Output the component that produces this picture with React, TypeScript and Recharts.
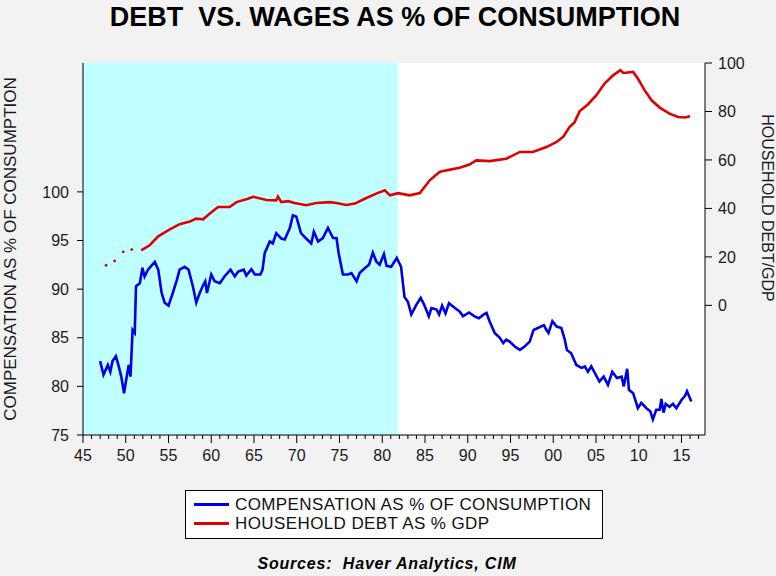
import { ComposedChart, Line, XAxis, YAxis, ReferenceArea, CartesianGrid, Legend } from 'recharts';

const FONT = '"Liberation Sans", Arial, sans-serif';

// compensation as % of consumption (left axis)
const compYears = [
  1947.0, 1947.4, 1947.9, 1948.2, 1948.45, 1948.85, 1949.2, 1949.5, 1949.8, 1950.15,
  1950.35, 1950.55, 1950.8, 1951.05, 1951.2, 1951.65, 1951.95, 1952.2, 1952.6, 1953.4,
  1953.8, 1954.2, 1954.55, 1955.0, 1955.5, 1956.0, 1956.3, 1956.9, 1957.35, 1957.85,
  1958.25, 1958.65, 1959.05, 1959.3, 1959.5, 1960.0, 1960.4, 1961.0, 1961.55, 1962.25,
  1962.75, 1963.15, 1963.8, 1964.1, 1964.7, 1965.1, 1965.75, 1966.0, 1966.25, 1966.85,
  1967.2, 1967.6, 1968.2, 1968.6, 1969.2, 1969.55, 1969.95, 1970.5, 1971.1, 1971.7,
  1972.0, 1972.5, 1973.05, 1973.65, 1974.25, 1974.65, 1974.9, 1975.4, 1976.0, 1976.4,
  1977.0, 1977.35, 1977.95, 1978.45, 1978.9, 1979.3, 1979.7, 1980.2, 1980.5, 1981.05,
  1981.7, 1982.2, 1982.6, 1983.0, 1983.4, 1984.0, 1984.5, 1984.9, 1985.45, 1985.75,
  1986.35, 1986.65, 1987.0, 1987.4, 1987.8, 1988.5, 1989.05, 1989.45, 1990.15, 1990.8,
  1991.3, 1991.8, 1992.2, 1992.55, 1993.15, 1993.75, 1994.15, 1994.5, 1994.9, 1995.5,
  1996.1, 1996.65, 1997.25, 1997.7, 1998.2, 1998.9, 1999.2, 1999.45, 1999.9, 2000.4,
  2000.95, 2001.35, 2001.6, 2002.1, 2002.7, 2003.3, 2003.7, 2004.05, 2004.45, 2005.4,
  2005.9, 2006.4, 2006.9, 2007.45, 2008.0, 2008.25, 2008.65, 2008.85, 2009.35, 2009.65,
  2009.9, 2010.3, 2010.9, 2011.35, 2011.65, 2012.05, 2012.45, 2012.65, 2012.9, 2013.15,
  2013.6, 2014.0, 2014.4, 2015.0, 2015.4, 2015.65, 2016.15,
];
const compValues = [
  82.6, 81.2, 82.2, 81.5, 82.6, 83.1, 82.0, 80.9, 79.3, 81.2,
  82.2, 81.0, 85.8, 85.5, 90.3, 90.6, 92.2, 91.3, 92.0, 92.8,
  92.0, 89.6, 88.6, 88.3, 89.6, 91.0, 92.0, 92.3, 92.0, 90.3,
  88.6, 89.6, 90.4, 90.8, 89.6, 91.5, 90.8, 90.6, 91.3, 92.0,
  91.3, 91.8, 92.0, 91.4, 92.05, 91.5, 91.5, 92.0, 93.7, 94.9,
  94.7, 95.75, 95.2, 95.1, 96.3, 97.6, 97.45, 95.75, 95.2, 94.7,
  95.9, 94.9, 95.25, 96.3, 95.25, 95.25, 93.7, 91.5, 91.5, 91.65,
  90.8, 91.65, 92.15, 92.5, 93.75, 92.85, 92.5, 93.6, 92.4, 92.3,
  93.2, 92.3, 89.2, 88.7, 87.4, 88.4, 89.1, 88.4, 87.2, 88.05,
  87.9, 87.4, 88.3, 87.5, 88.55, 88.05, 87.7, 87.2, 87.6, 87.2,
  87.0, 87.35, 87.55, 86.7, 85.5, 85.0, 84.45, 84.8, 84.6, 84.1,
  83.75, 84.1, 84.6, 85.8, 86.0, 86.3, 85.8, 85.5, 86.7, 86.15,
  86.0, 84.8, 83.75, 83.4, 82.2, 81.9, 82.05, 81.5, 82.05, 80.5,
  81.0, 80.15, 81.5, 80.85, 81.0, 80.0, 81.8, 79.65, 79.3, 78.45,
  77.75, 78.3, 77.75, 77.45, 76.6, 77.6, 77.6, 78.7, 77.3, 78.2,
  77.9, 78.2, 77.75, 78.6, 79.0, 79.5, 78.45,
];

// household debt as % of GDP (right axis)
const debtEarlyYears = [1947.7, 1948.7, 1949.7, 1950.7];
const debtEarlyValues = [16.5, 18.3, 22.1, 23.0];
const debtYears = [
  1951.8, 1952.8, 1953.8, 1955.0, 1956.3, 1957.5, 1958.25, 1959.05, 1959.8, 1960.8,
  1962.15, 1962.95, 1964.3, 1964.9, 1966.45, 1967.6, 1967.8, 1968.2, 1969.0, 1969.75,
  1971.1, 1972.3, 1973.85, 1974.65, 1975.8, 1976.8, 1977.95, 1979.3, 1980.3, 1980.9,
  1981.85, 1983.2, 1984.4, 1985.55, 1986.7, 1987.5, 1989.05, 1990.2, 1991.0, 1992.55,
  1994.5, 1996.1, 1997.6, 1999.2, 2000.4, 2001.2, 2001.9, 2002.5, 2003.1, 2004.05,
  2005.05, 2006.0, 2007.0, 2007.85, 2008.2, 2009.35, 2009.9, 2010.7, 2011.5, 2012.45,
  2013.6, 2014.6, 2015.4, 2016.0,
];
const debtValues = [
  22.7, 24.8, 28.5, 31.0, 33.5, 34.6, 35.8, 35.5, 37.8, 40.6,
  40.6, 42.6, 44.0, 44.8, 43.5, 43.3, 44.9, 42.6, 43.0, 42.2,
  41.3, 42.2, 42.6, 42.2, 41.4, 42.0, 44.0, 46.1, 47.5, 45.4,
  46.3, 45.4, 46.3, 51.6, 55.0, 55.7, 56.8, 58.1, 59.8, 59.5,
  60.5, 63.3, 63.3, 65.3, 67.4, 69.7, 73.6, 75.6, 80.2, 82.9,
  86.7, 91.5, 94.9, 97.0, 95.9, 96.3, 93.6, 88.7, 84.6, 81.6,
  79.1, 77.7, 77.5, 78.0,
];

const labelYears = [1945, 1950, 1955, 1960, 1965, 1970, 1975, 1980, 1985, 1990, 1995, 2000, 2005, 2010, 2015];
const leftTicks = [75, 80, 85, 90, 95, 100];
const rightTicks = [0, 20, 40, 60, 80, 100];

const shadeStart = 1945;
const shadeEnd = 1981.8;

const zip = (xs: number[], ys: number[]) => xs.map((year, i) => ({ year, v: ys[i] }));
const compData = zip(compYears, compValues);
const debtData = zip(debtYears, debtValues);
const debtEarly = zip(debtEarlyYears, debtEarlyValues);

const yearTicks: number[] = [];
for (let y = 1945; y <= 2017; y++) yearTicks.push(y);

const X_DOMAIN: [number, number] = [1945, 2017.75];

function YearTick(props: any) {
  const { x, y, payload } = props;
  const yr = payload.value;
  const major = labelYears.includes(yr);
  return (
    <g>
      <line x1={x} x2={x} y1={y} y2={y + (major ? 8 : 4)} stroke="#000" />
      {major && (
        <text x={x} y={y + 26} textAnchor="middle" fontSize={16} fill="#1a1a1a" fontFamily={FONT}>
          {String(yr % 100).padStart(2, '0')}
        </text>
      )}
    </g>
  );
}

function LegendBox(props: any) {
  const items = (props.payload || []).filter((p: any) => p.type !== 'none');
  return (
    <div
      style={{
        width: 418,
        height: 49,
        boxSizing: 'border-box',
        border: '1px solid #000',
        background: '#fff',
        paddingTop: 4,
        fontFamily: FONT,
        fontSize: 17,
        letterSpacing: 0.4,
        color: '#111',
      }}
    >
      {items.map((item: any) => (
        <div key={item.value} style={{ display: 'flex', alignItems: 'center', height: 19 }}>
          <span style={{ display: 'inline-block', width: 35, height: 3, background: item.color, marginLeft: 8, marginRight: 6 }} />
          <span style={{ whiteSpace: 'nowrap' }}>{item.value}</span>
        </div>
      ))}
    </div>
  );
}

export default function App() {
  const tickStyle = { fontSize: 16, fill: '#1a1a1a', fontFamily: FONT };
  return (
    <div style={{ position: 'absolute', left: 0, top: 0, width: 776, height: 576, background: '#f2f2f2' }}>
      <ComposedChart width={776} height={576} margin={{ top: 63, right: 0, bottom: 111, left: 0 }}>
        <CartesianGrid xAxisId="b" yAxisId="l" fill="#ffffff" horizontal={false} vertical={false} />
        <XAxis
          xAxisId="b"
          dataKey="year"
          type="number"
          domain={X_DOMAIN}
          allowDataOverflow
          ticks={yearTicks}
          interval={0}
          tickSize={0}
          tickMargin={0}
          tick={<YearTick />}
          tickLine={false}
          axisLine={{ stroke: '#000' }}
          height={30}
        />
        <XAxis
          xAxisId="t"
          orientation="top"
          dataKey="year"
          type="number"
          domain={X_DOMAIN}
          allowDataOverflow
          tick={false}
          tickLine={false}
          axisLine={{ stroke: '#000' }}
          height={0}
        />
        <YAxis
          yAxisId="l"
          domain={[75, 113.25]}
          allowDataOverflow
          ticks={leftTicks}
          interval={0}
          width={83}
          tickSize={6}
          tickMargin={8}
          tick={tickStyle}
          tickLine={{ stroke: '#000' }}
          axisLine={{ stroke: '#000' }}
        />
        <YAxis
          yAxisId="r"
          orientation="right"
          domain={[-53.5, 100]}
          allowDataOverflow
          ticks={rightTicks}
          interval={0}
          width={71}
          tickSize={7}
          tickMargin={6}
          tick={tickStyle}
          tickLine={{ stroke: '#000' }}
          axisLine={{ stroke: '#000' }}
        />
        <ReferenceArea xAxisId="b" yAxisId="l" x1={shadeStart} x2={shadeEnd} fill="#c0ffff" fillOpacity={1} stroke="none" />
        <Line
          xAxisId="b"
          yAxisId="l"
          data={compData}
          dataKey="v"
          name="COMPENSATION AS % OF CONSUMPTION"
          type="linear"
          stroke="#0000e6"
          strokeWidth={2.6}
          dot={false}
          isAnimationActive={false}
        />
        <Line
          xAxisId="b"
          yAxisId="r"
          data={debtData}
          dataKey="v"
          name="HOUSEHOLD DEBT AS % GDP"
          type="linear"
          stroke="#e00000"
          strokeWidth={2.6}
          dot={false}
          isAnimationActive={false}
        />
        <Line
          xAxisId="b"
          yAxisId="r"
          data={debtEarly}
          dataKey="v"
          name="early"
          legendType="none"
          stroke="none"
          dot={{ r: 1.4, fill: '#cc0000', stroke: 'none' }}
          isAnimationActive={false}
        />
        <Legend
          layout="horizontal"
          verticalAlign="middle"
          align="center"
          content={<LegendBox />}
          wrapperStyle={{ position: 'absolute', left: 185, top: 490, width: 418, height: 49 }}
        />
      </ComposedChart>
      <svg width={776} height={576} style={{ position: 'absolute', left: 0, top: 0, pointerEvents: 'none' }}>
        <text
          x={395}
          y={26}
          textAnchor="middle"
          fontFamily={FONT}
          fontWeight="bold"
          fontSize={27}
          fill="#000"
          style={{ whiteSpace: 'pre' }}
        >
          {'DEBT  VS. WAGES AS % OF CONSUMPTION'}
        </text>
        <text
          x={10}
          y={249}
          transform="rotate(-90, 10, 249)"
          textAnchor="middle"
          dominantBaseline="central"
          fontFamily={FONT}
          fontSize={17}
          fill="#1a1a1a"
        >
          COMPENSATION AS % OF CONSUMPTION
        </text>
        <text
          x={767}
          y={208}
          transform="rotate(90, 767, 208)"
          textAnchor="middle"
          dominantBaseline="central"
          fontFamily={FONT}
          fontSize={16}
          fill="#1a1a1a"
        >
          HOUSEHOLD DEBT/GDP
        </text>
        <text
          x={387}
          y={569}
          textAnchor="middle"
          fontFamily={FONT}
          fontWeight="bold"
          fontStyle="italic"
          fontSize={16}
          letterSpacing={0.8}
          fill="#000"
          style={{ whiteSpace: 'pre' }}
        >
          {'Sources:  Haver Analytics, CIM'}
        </text>
      </svg>
    </div>
  );
}
